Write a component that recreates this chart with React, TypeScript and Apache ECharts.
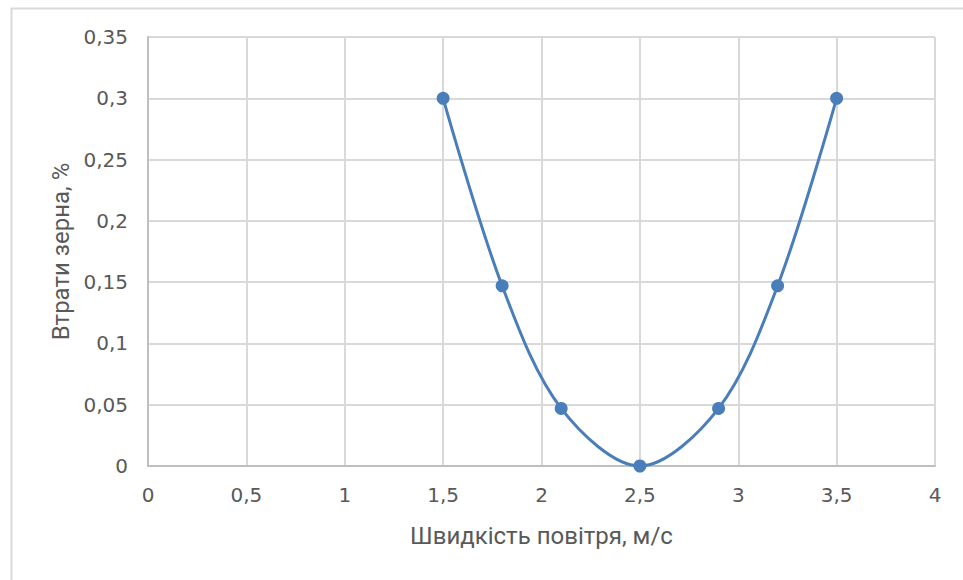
import React, { useEffect, useRef } from "react";
import * as echarts from "echarts";

// Air speed (m/s) and grain loss (%) measurements
const airSpeed = [1.5, 1.8, 2.1, 2.5, 2.9, 3.2, 3.5];
const grainLoss = [0.3, 0.147, 0.047, 0, 0.047, 0.147, 0.3];

const xTitle = "Швидкість повітря, м/с";
const yTitle = "Втрати зерна, %";

const fmt = (v: number) => String(Number(v.toFixed(2))).replace(".", ",");

export default function App() {
  const ref = useRef<HTMLDivElement>(null);

  useEffect(() => {
    if (!ref.current) return;
    const chart = echarts.init(ref.current, undefined, { renderer: "svg" });
    const tickFont = "'DejaVu Sans', 'Noto Sans', sans-serif";
    const titleFont = "Roboto, 'Open Sans', sans-serif";
    chart.setOption({
      animation: false,
      backgroundColor: "#ffffff",
      textStyle: { fontFamily: tickFont },
      graphic: [
        {
          type: "rect",
          left: 9,
          top: 6,
          shape: { x: 0, y: 0, width: 1000, height: 1000 },
          style: { fill: "none", stroke: "#d9d9d9", lineWidth: 2 },
          z: -1,
        },
      ],
      grid: { left: 148, right: 28, top: 37, bottom: 114 },
      xAxis: {
        type: "value",
        min: 0,
        max: 4,
        interval: 0.5,
        name: xTitle,
        nameLocation: "middle",
        nameGap: 58,
        nameTextStyle: { color: "#595959", fontSize: 24, fontFamily: titleFont },
        axisLine: { show: true, lineStyle: { color: "#bfbfbf", width: 2 } },
        axisTick: { show: false },
        axisLabel: {
          formatter: fmt,
          color: "#595959",
          fontSize: 20,
          margin: 19,
          fontFamily: tickFont,
        },
        splitLine: { show: true, lineStyle: { color: "#d9d9d9", width: 2 } },
      },
      yAxis: {
        type: "value",
        min: 0,
        max: 0.35,
        interval: 0.05,
        name: yTitle,
        nameLocation: "middle",
        nameGap: 71,
        nameRotate: 90,
        nameTextStyle: { color: "#595959", fontSize: 24, fontFamily: titleFont },
        axisLine: { show: true, lineStyle: { color: "#bfbfbf", width: 2 } },
        axisTick: { show: false },
        axisLabel: {
          formatter: fmt,
          color: "#595959",
          fontSize: 20,
          margin: 20,
          fontFamily: tickFont,
        },
        splitLine: { show: true, lineStyle: { color: "#d9d9d9", width: 2 } },
      },
      series: [
        {
          type: "line",
          data: airSpeed.map((x, i) => [x, grainLoss[i]]),
          smooth: 0.33,
          symbol: "circle",
          symbolSize: 13,
          lineStyle: { color: "#4a7ebb", width: 3 },
          itemStyle: { color: "#4a7ebb" },
        },
      ],
    });
    return () => chart.dispose();
  }, []);

  return (
    <div
      ref={ref}
      style={{ position: "absolute", left: 0, top: 0, width: 963, height: 580 }}
    />
  );
}
